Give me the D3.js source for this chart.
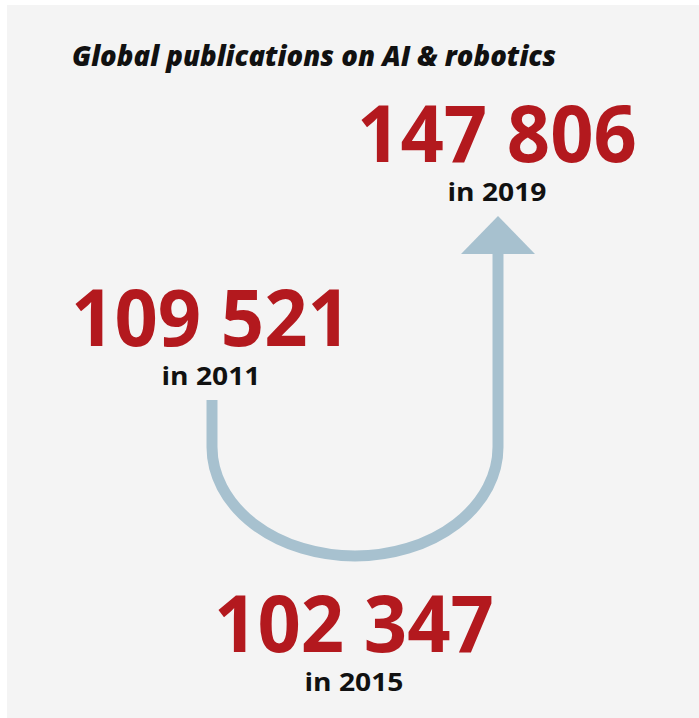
<!DOCTYPE html>
<html>
<head>
<meta charset="utf-8">
<script src="https://cdn.jsdelivr.net/npm/d3@7"></script>
<style>
  html, body { margin: 0; padding: 0; background: #fff; }
  svg { display: block; }
</style>
</head>
<body>
<svg id="chart"></svg>
<script>
/* Data */
var title = "Global publications on AI & robotics";
var years = [2011, 2015, 2019];
var publications = [109521, 102347, 147806];

/* Layout */
var width = 699, height = 718;
var red = "#b3191e", arrowColor = "#a7c1cf", bg = "#f4f4f4";
// baseline of the big number per year
var numberY = { 2011: 346, 2015: 652, 2019: 162 };
var labelGap = 39;

var svg = d3.select("#chart")
    .attr("width", width)
    .attr("height", height);

svg.append("rect")
    .attr("x", 7).attr("y", 5)
    .attr("width", width - 7).attr("height", height - 5)
    .attr("fill", bg);

// Title
svg.append("text")
    .attr("x", 72).attr("y", 66)
    .attr("font-family", "'Open Sans', sans-serif")
    .attr("font-weight", 800)
    .attr("font-style", "italic")
    .attr("font-size", 28)
    .attr("textLength", 484)
    .attr("lengthAdjust", "spacingAndGlyphs")
    .attr("fill", "#111")
    .text(title);

// years placed along x, arrow runs 2011 -> 2015 -> 2019
var x = d3.scalePoint().domain(years).range([212, 498]);

var fmt = d3.formatLocale({ decimal: ".", thousands: " ", grouping: [3], currency: ["", ""] }).format(",");

// U-shaped arrow
var top0 = 400, bend = 447, bottom = 556, headBase = 254, headTip = 216;
var xl = x(2011), xr = x(2019);
var rx = (xr - xl) / 2, ry = bottom - bend;
var arrowPath = "M" + xl + "," + top0 +
    "L" + xl + "," + bend +
    "A" + rx + "," + ry + " 0 0 0 " + xr + "," + bend +
    "L" + xr + "," + (headBase - 2);

svg.append("path")
    .attr("d", arrowPath)
    .attr("fill", "none")
    .attr("stroke", arrowColor)
    .attr("stroke-width", 11);

svg.append("path")
    .attr("d", d3.line()([[xr, headTip], [xr + 37, headBase], [xr - 37, headBase]]) + "Z")
    .attr("fill", arrowColor);

// Numbers and year labels
var items = years.map(function(y, i){ return { year: y, value: publications[i] }; });

var g = svg.selectAll("g.item")
    .data(items)
    .enter().append("g")
    .attr("class", "item")
    .attr("transform", function(d){ return "translate(" + (x(d.year) - 1) + ",0)"; });

g.append("text")
    .attr("y", function(d){ return numberY[d.year]; })
    .attr("text-anchor", "middle")
    .attr("font-family", "'Open Sans', sans-serif")
    .attr("font-weight", 700)
    .attr("font-size", 79)
    .attr("textLength", 280)
    .attr("lengthAdjust", "spacingAndGlyphs")
    .attr("fill", red)
    .text(function(d){ return fmt(d.value); });

g.append("text")
    .attr("y", function(d){ return numberY[d.year] + labelGap; })
    .attr("text-anchor", "middle")
    .attr("font-family", "'Open Sans', sans-serif")
    .attr("font-weight", 700)
    .attr("font-size", 25)
    .attr("textLength", 99)
    .attr("lengthAdjust", "spacingAndGlyphs")
    .attr("fill", "#111")
    .text(function(d){ return "in " + d.year; });
</script>
</body>
</html>
